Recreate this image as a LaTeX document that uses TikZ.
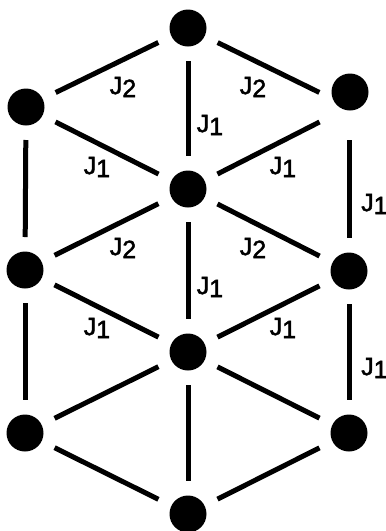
\documentclass[tikz,border=0pt]{standalone}
\usepackage{fontspec}
\setmainfont{Liberation Sans}
\newfontfamily\lblfont[FakeBold=2]{Liberation Sans}
\newcommand\Jsub[1]{J\raisebox{-3pt}{#1}}
\begin{document}
\begin{tikzpicture}[x=1pt,y=-1pt,
  site/.style={circle,fill=black,minimum size=37pt,inner sep=0pt},
  bond/.style={line width=5pt,shorten >=33pt,shorten <=33pt},
  lbl/.style={inner sep=0pt,font=\lblfont\fontsize{25}{25}\selectfont}]
\useasboundingbox (0,0) rectangle (386,531);
% lattice sites
\coordinate (T) at (188,28);
\coordinate (UL) at (26,107);
\coordinate (UR) at (349,107);
\coordinate (CU) at (188,189);
\coordinate (ML) at (25,270);
\coordinate (MR) at (349,271);
\coordinate (CL) at (188,352);
\coordinate (LL) at (25,433);
\coordinate (LR) at (349,433);
\coordinate (B) at (188,514);
% dots
\node[site] (nT) at (T) {};
\node[site] (nUL) at (UL) {};
\node[site] (nUR) at (350,92) {};
\node[site] (nCU) at (CU) {};
\node[site] (nML) at (ML) {};
\node[site] (nMR) at (MR) {};
\node[site] (nCL) at (CL) {};
\node[site] (nLL) at (LL) {};
\node[site] (nLR) at (LR) {};
\node[site] (nB) at (B) {};
% bonds
\foreach \a/\b in {T/UL,T/UR,T/CU,UL/CU,UR/CU,UL/ML,UR/MR,CU/ML,CU/MR,CU/CL,
  ML/CL,MR/CL,ML/LL,MR/LR,CL/LL,CL/LR,CL/B,LL/B,LR/B}
  \draw[bond] (\a) -- (\b);
% labels
\node[lbl] (l1) at (123,87) {\Jsub{2}};
\node[lbl] (l2) at (253,87) {\Jsub{2}};
\node[lbl] (l3) at (210,125) {\Jsub{1}};
\node[lbl] (l4) at (97,167) {\Jsub{1}};
\node[lbl] (l5) at (283,167) {\Jsub{1}};
\node[lbl] (l6) at (123,248) {\Jsub{2}};
\node[lbl] (l7) at (253,248) {\Jsub{2}};
\node[lbl] (l8) at (210,287) {\Jsub{1}};
\node[lbl] (l9) at (97,328) {\Jsub{1}};
\node[lbl] (l10) at (283,328) {\Jsub{1}};
\node[lbl,anchor=west] (l11) at (361,204) {\Jsub{1}};
\node[lbl,anchor=west] (l12) at (361,368) {\Jsub{1}};
\end{tikzpicture}
\end{document}
